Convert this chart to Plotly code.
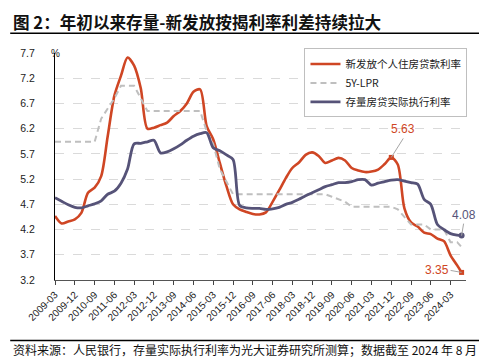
import plotly.graph_objects as go

# ---- data (quarter-end months, plus 2024-08) ----
dates = [f"{y}-{m:02d}-01" for y in range(2009, 2024) for m in (3, 6, 9, 12)] + ["2024-03-01", "2024-06-01", "2024-08-01"]

new_rate = [
    4.47, 4.32, 4.36, 4.40,
    4.53, 4.93, 5.03, 5.26,
    6.05, 6.85, 7.25, 7.61,
    7.45, 7.00, 6.20, 6.22,
    6.27, 6.32, 6.45, 6.55,
    6.70, 6.93, 6.98, 6.25,
    5.99, 5.52, 5.06, 4.70,
    4.60, 4.55, 4.51, 4.50,
    4.54, 4.75, 4.98, 5.22,
    5.42, 5.53, 5.68, 5.73,
    5.66, 5.52, 5.57, 5.62,
    5.57, 5.42, 5.37, 5.34,
    5.35, 5.39, 5.50, 5.63,
    5.49, 4.62, 4.34, 4.26,
    4.14, 4.11, 4.02, 3.97,
    3.69, 3.49, 3.35,
]

lpr = [
    5.94, 5.94, 5.94, 5.94,
    5.94, 5.94, 5.94, 6.40,
    6.60, 6.80, 7.05, 7.05,
    7.05, 6.80, 6.55, 6.55,
    6.55, 6.55, 6.55, 6.55,
    6.55, 6.55, 6.55, 6.15,
    5.90, 5.40, 5.15, 4.90,
    4.90, 4.90, 4.90, 4.90,
    4.90, 4.90, 4.90, 4.90,
    4.90, 4.90, 4.90, 4.90,
    4.90, 4.90, 4.85, 4.80,
    4.75, 4.65, 4.65, 4.65,
    4.65, 4.65, 4.65, 4.65,
    4.60, 4.45, 4.30, 4.30,
    4.30, 4.20, 4.20, 4.20,
    3.95, 3.95, 3.85,
]

stock_rate = [
    4.83, 4.76, 4.69, 4.64,
    4.63, 4.67, 4.71, 4.77,
    4.90, 4.96, 5.12, 5.40,
    5.90, 5.91, 5.94, 5.97,
    5.72, 5.74, 5.80, 5.88,
    5.97, 6.05, 6.10, 6.12,
    5.82, 5.76, 5.68, 5.59,
    4.68, 4.63, 4.62, 4.62,
    4.60, 4.61, 4.64, 4.70,
    4.74, 4.80, 4.87, 4.93,
    4.99, 5.05, 5.09, 5.13,
    5.13, 5.15, 5.19, 5.19,
    5.08, 5.12, 5.15, 5.18,
    5.19, 5.16, 5.13, 5.10,
    4.80, 4.70, 4.30, 4.20,
    4.12, 4.09, 4.08,
]

tick_dates = [f"{2009 + (2 + 9 * i) // 12}-{(2 + 9 * i) % 12 + 1:02d}-01" for i in range(21)]
y_ticks = [3.2, 3.7, 4.2, 4.7, 5.2, 5.7, 6.2, 6.7, 7.2, 7.7]

names = ["新发放个人住房贷款利率", "5Y-LPR", "存量房贷实际执行利率"]

RED = "#CF4624"
PURPLE = "#565378"
GRAY = "#BFBFBF"
FONT = "Liberation Sans, Arial, Noto Sans CJK SC, sans-serif"
CJK = "Noto Sans CJK SC, sans-serif"

fig = go.Figure()
fig.add_trace(go.Scatter(x=dates, y=new_rate, name=names[0], mode="lines",
                         line=dict(color=RED, width=2.6, shape="spline", smoothing=0.8)))
fig.add_trace(go.Scatter(x=dates, y=lpr, name=names[1], mode="lines",
                         line=dict(color=GRAY, width=2, dash="6px,4px")))
fig.add_trace(go.Scatter(x=dates, y=stock_rate, name=names[2], mode="lines",
                         line=dict(color=PURPLE, width=2.8, shape="spline", smoothing=0.8)))

# markers at highlighted points
i_peak = dates.index("2021-12-01")
fig.add_trace(go.Scatter(x=[dates[i_peak], dates[-1]], y=[new_rate[i_peak], new_rate[-1]], mode="markers",
                         marker=dict(color=RED, size=5, symbol="square"), showlegend=False))
fig.add_trace(go.Scatter(x=[dates[-1]], y=[stock_rate[-1]], mode="markers",
                         marker=dict(color=PURPLE, size=6, symbol="circle"), showlegend=False))

ann_font = dict(family=FONT, size=12)
fig.add_annotation(x=dates[i_peak], y=new_rate[i_peak], text=f"{new_rate[i_peak]:.2f}",
                   showarrow=True, arrowhead=0, arrowwidth=1, arrowcolor="#A6A6A6",
                   ax=12, ay=-19, font=dict(color=RED, **ann_font), yanchor="bottom")
fig.add_annotation(x=dates[-1], y=new_rate[-1], text=f"{new_rate[-1]:.2f}",
                   showarrow=True, arrowhead=0, arrowwidth=1, arrowcolor="#A6A6A6",
                   ax=-11, ay=-2, font=dict(color=RED, **ann_font), xanchor="right")
fig.add_annotation(x=dates[-1], y=stock_rate[-1], text=f"{stock_rate[-1]:.2f}",
                   showarrow=True, arrowhead=0, arrowwidth=1, arrowcolor="#A6A6A6",
                   ax=2, ay=-12, font=dict(color=PURPLE, **ann_font), yanchor="bottom")

# unit label
fig.add_annotation(xref="paper", yref="paper", x=-0.014, y=1.0, text="%", showarrow=False,
                   font=dict(family=FONT, size=10, color="#222"), xanchor="left", yanchor="middle")

# title and footer
fig.add_annotation(xref="paper", yref="paper", x=-0.108, y=1.137, xanchor="left", yanchor="middle",
                   text="<b>图 2：年初以来存量-新发放按揭利率利差持续拉大</b>", showarrow=False,
                   font=dict(family=CJK, size=16.6, color="#111"))
fig.add_annotation(xref="paper", yref="paper", x=-0.108, y=-0.307, xanchor="left", yanchor="middle",
                   text="资料来源：人民银行，存量实际执行利率为光大证券研究所测算；数据截至 2024 年 8 月",
                   showarrow=False, font=dict(family=CJK, size=12, color="#111"))
fig.add_shape(type="line", xref="paper", yref="paper", x0=-0.109, x1=1.057, y0=1.087, y1=1.087,
              line=dict(color="#000", width=1.5))
fig.add_shape(type="line", xref="paper", yref="paper", x0=-0.109, x1=1.057, y0=-0.266, y1=-0.266,
              line=dict(color="#000", width=1.5))

fig.update_layout(
    width=487, height=358,
    margin=dict(l=47, r=29, t=45, b=86),
    paper_bgcolor="white", plot_bgcolor="white",
    font=dict(family=FONT, size=10, color="#222"),
    showlegend=True,
    legend=dict(x=0.607, y=1.02, xanchor="left", yanchor="top",
                bordercolor="#BFBFBF", borderwidth=1, bgcolor="white",
                font=dict(family=CJK, size=10.5, color="#222"),
                itemwidth=30, tracegroupgap=4),
)
fig.update_xaxes(
    type="date", range=["2009-03-01", "2024-10-01"],
    tickvals=tick_dates, tickformat="%Y-%m", tickangle=-45,
    ticks="outside", ticklen=4, tickcolor="#444",
    showline=True, linecolor="#555", linewidth=1,
    showgrid=False, zeroline=False,
    tickfont=dict(family=FONT, size=10, color="#222"),
)
fig.update_yaxes(
    range=[3.2, 7.7], tickvals=y_ticks, ticktext=[f"{v:.1f}" for v in y_ticks],
    showline=True, linecolor="#000", linewidth=1.2,
    showgrid=True, gridcolor="#DADADA", griddash="dash", gridwidth=1,
    zeroline=False, ticks="", ticklabelstandoff=17,
    tickfont=dict(family=FONT, size=10.5, color="#222"),
)

fig.write_html("out.html")
